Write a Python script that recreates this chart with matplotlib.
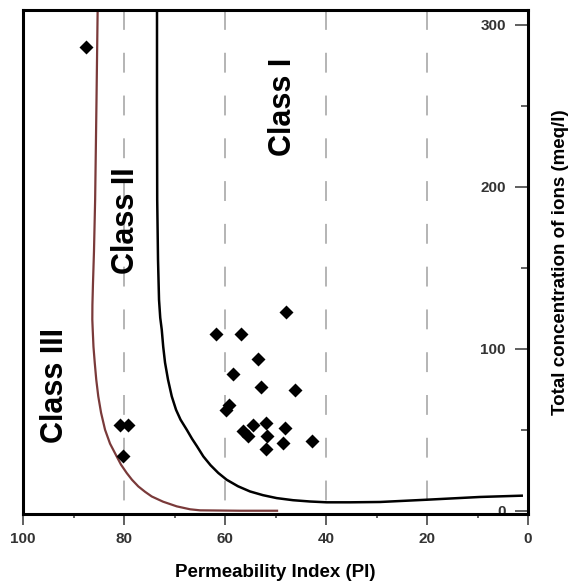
import matplotlib

matplotlib.use("Agg")

import matplotlib.pyplot as plt  # noqa: E402
from matplotlib.ticker import MultipleLocator  # noqa: E402

plt.rcParams["font.family"] = ["Liberation Sans", "DejaVu Sans"]

# sample points (Permeability Index, total ions meq/l)
pi_vals = [87.5, 80.7, 79.3, 80.3, 48.0, 61.8, 56.9, 53.5, 58.5, 52.9, 46.1,
           59.2, 59.8, 56.5, 55.4, 54.4, 51.9, 51.6, 48.1, 51.9, 48.5, 42.8]
tc_vals = [286, 53, 53, 33.5, 122.6, 109, 109, 93.8, 84.6, 76.3, 74.7,
           65.4, 61.9, 49, 45.9, 52.7, 54.1, 45.9, 51, 38.1, 42, 42.8]

# Class I / Class II boundary (black)
b1_pi = [73.47, 73.47, 73.43, 73.27, 73.07, 72.83, 72.53, 72.24, 71.88,
         71.29, 70.55, 69.70, 68.81, 67.58, 66.53, 65.54, 64.29, 62.87,
         61.33, 59.66, 57.43, 55.05, 52.48, 49.77, 46.53, 43.17, 39.86,
         35.25, 29.31, 20.06, 9.50, 1.25]
b1_tc = [312.3, 253.7, 192.0, 154.9, 130.2, 119.1, 111.7, 101.2, 91.4,
         80.9, 70.6, 62.3, 56.2, 50.0, 44.4, 39.7, 33.5, 28.1,
         23.3, 19.1, 15.1, 11.9, 9.6, 7.8, 6.5, 5.7, 5.2,
         5.2, 5.4, 6.8, 8.5, 9.3]

# Class II / Class III boundary (brown)
b2_pi = [85.21, 85.45, 85.72, 85.95, 86.15, 86.26, 86.28, 86.20, 86.05,
         85.80, 85.50, 85.10, 84.55, 83.76, 82.77, 81.45, 80.59, 79.47,
         78.42, 77.17, 75.84, 74.51, 72.28, 69.56, 66.93, 64.95, 57.03,
         49.70]
b2_tc = [312.3, 253.7, 192.0, 160.0, 140.0, 127.0, 118.0, 111.7, 101.2,
         91.4, 80.9, 70.6, 60.5, 50.0, 41.4, 33.5, 28.4, 23.3,
         19.1, 15.0, 11.7, 8.8, 5.6, 2.7, 0.9, 0.25, 0.0,
         0.0]

grid_x = [80, 60, 40, 20]
x_ticks = [100, 80, 60, 40, 20, 0]
y_ticks = [0, 100, 200, 300]

class_labels = ["Class I", "Class II", "Class III"]
class_pos = [(48.5, 249), (79.6, 179), (93.6, 77)]

fig = plt.figure(figsize=(5.8, 5.85), dpi=100)
ax = fig.add_axes([0.0397, 0.1214, 0.8707, 0.8615])

for gx in grid_x:
    ax.plot([gx, gx], [309, -2], color="#a0a0a0", lw=1.1,
            linestyle=(0, (13, 15)), zorder=1)

ax.plot(b2_pi, b2_tc, color="#7a3a3a", lw=1.6, zorder=2)
ax.plot(b1_pi, b1_tc, color="black", lw=1.8, zorder=2)
ax.plot(pi_vals, tc_vals, linestyle="none", marker="D", ms=7.5,
        mec="none", color="black", zorder=3)

for txt, (px, py) in zip(class_labels, class_pos):
    ax.text(px, py, txt, rotation=90, ha="center", va="center",
            fontsize=22, fontweight="bold")

ax.set_xlim(100, 0)
ax.set_ylim(-2, 309)

for sp in ax.spines.values():
    sp.set_linewidth(2.2)

ax.set_xticks(x_ticks)
ax.xaxis.set_minor_locator(MultipleLocator(10))
ax.tick_params(axis="x", which="major", direction="out", length=8, width=1.2,
               pad=5, labelsize=11, labelcolor="#333333", color="#444444")
ax.tick_params(axis="x", which="minor", direction="out", length=3, width=1.2,
               color="#444444")
for lab in ax.get_xticklabels():
    lab.set_fontweight("bold")

ax.yaxis.tick_right()
ax.set_yticks(y_ticks)
ax.yaxis.set_minor_locator(MultipleLocator(50))
ax.tick_params(axis="y", which="major", direction="in", length=9.5, width=1.2,
               pad=-16, labelsize=11, labelcolor="#333333", color="#444444",
               left=False, right=True, labelleft=False, labelright=True)
ax.tick_params(axis="y", which="minor", direction="in", length=5, width=1.2,
               color="#444444", left=False, right=True)
for t in ax.yaxis.get_major_ticks():
    t.label2.set_horizontalalignment("right")
    t.label2.set_fontweight("bold")

ax.set_xlabel("Permeability Index (PI)", fontsize=13.5, fontweight="bold",
              labelpad=13)
ax.yaxis.set_label_position("right")
ax.set_ylabel("Total concentration of ions (meq/l)", fontsize=13.5,
              fontweight="bold", rotation=90, labelpad=14)

fig.savefig("out.png", dpi=100)
